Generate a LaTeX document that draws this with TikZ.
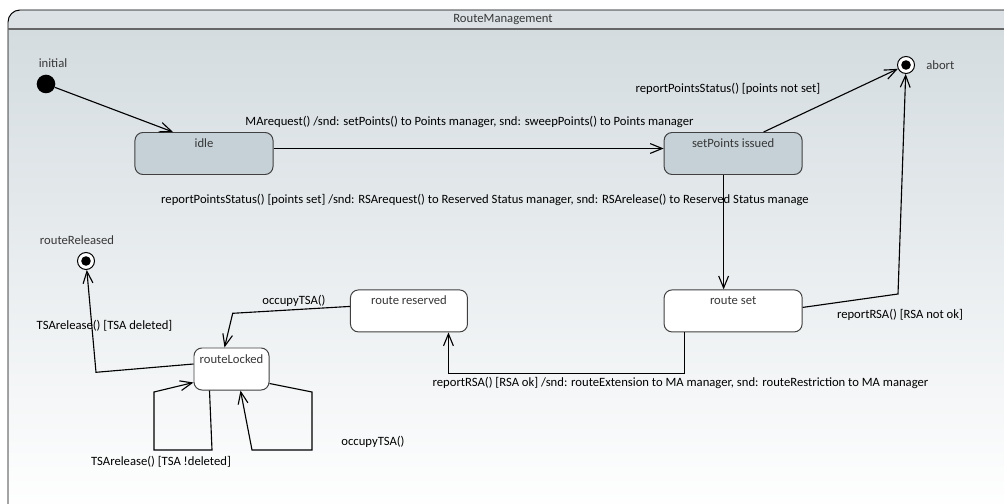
\documentclass[tikz,border=0pt]{standalone}
\usepackage{fontspec}
\setmainfont{Carlito}
\usetikzlibrary{positioning,calc,arrows.meta}
\definecolor{stateblue}{RGB}{197,209,215}
\definecolor{framebg}{RGB}{212,220,224}
\definecolor{labelgray}{RGB}{55,55,55}
\newcommand\statefont{\fontsize{9}{11}\selectfont}
\newcommand\translfont{\fontsize{9}{11}\selectfont}
\tikzset{
	trans/.style={-{Straight Barb[length=8.5pt,width=7pt]}, line width=0.8pt}, % transition between states
	state/.style={rectangle, rounded corners=0.2cm, draw=black!75, line width=0.7pt, fill=white, minimum width=3.45cm, inner ysep=0.2cm, text height=0.175cm, text depth=0.475cm, font=\statefont, text=labelgray},
	active/.style={fill=stateblue},
	pseudo/.style={circle, fill=black, minimum size=0.465cm, inner sep=0pt},
	final/.style={circle, draw, fill=white, line width=0.7pt, minimum size=0.425cm, inner sep=0pt, path picture={\fill[black] (path picture bounding box.center) circle (0.12cm);}},
	tlabel/.style={font=\translfont, inner sep=0pt},
	slabel/.style={font=\statefont, text=labelgray, inner sep=0pt}
}
\begin{document}
\begin{tikzpicture}[x=0.025cm, y=-0.025cm]
	\useasboundingbox (0,0) rectangle (1004,504);
	% frame of the state machine
	\begin{scope}
		\clip (0,0) rectangle (1004,504);
		\fill[framebg!85!white, rounded corners=0.3cm] (8,10) rectangle (1040,40);
		\shade[top color=framebg, bottom color=white] (8,29) rectangle (1040,515);
		\draw[line width=0.7pt, rounded corners=0.3cm] (8,560) -- (8,10) -- (1040,10) -- (1040,560);
		\draw[line width=1.4pt, black!60] (8,29) -- (1040,29);
	\end{scope}
	\node[slabel] (title) at (503,20) {RouteManagement};
	% states
	\node[state, active] (idle) at (204,153.5) {idle};
	\node[state, active, right=9.75cm of idle] (setp) {setPoints issued};
	\node[state, below=2.86cm of setp] (rset) {route set};
	\node[state, minimum width=2.925cm, left=4.89cm of rset] (rres) {route reserved};
	\node[state, minimum width=1.875cm] (lock) at (231.5,369) {routeLocked};
	\node[pseudo] (init) at (46,84) {};
	\node[final] (abort) at (906,65) {};
	\node[final] (rrel) at (86,261) {};
	\node[slabel] (initlab) at (53,63) {initial};
	\node[slabel, anchor=west] (abortlab) at (926,65) {abort};
	\node[slabel] (rrellab) at (77,240) {routeReleased};
	% transition labels
	\node[tlabel] (t1) at (469.5,122) {MArequest() /snd: setPoints() to Points manager, snd: sweepPoints() to Points manager};
	\node[tlabel] (t2) at (728,88.5) {reportPointsStatus() [points not set]};
	\node[tlabel] (t3) at (485,200) {reportPointsStatus() [points set] /snd: RSArequest() to Reserved Status manager, snd: RSArelease() to Reserved Status manage};
	\node[tlabel] (t4) at (900,315) {reportRSA() [RSA not ok]};
	\node[tlabel] (t5) at (680.5,383) {reportRSA() [RSA ok] /snd: routeExtension to MA manager, snd: routeRestriction to MA manager};
	\node[tlabel] (t6) at (294,301) {occupyTSA()};
	\node[tlabel] (t7) at (104.5,326) {TSArelease() [TSA deleted]};
	\node[tlabel] (t8) at (161,462) {TSArelease() [TSA !deleted]};
	\node[tlabel] (t9) at (373,442) {occupyTSA()};
	% transitions
	\draw[trans] (init) -- ($(idle.north)+(-31,0)$);
	\draw[trans] ($(idle.east)+(0,-5)$) -- ($(setp.west)+(0,-5)$);
	\draw[trans] ($(setp.north)+(30.5,0)$) -- (abort);
	\draw[trans] ($(setp.south)+(-9.5,0)$) -- ($(rset.north)+(-9.5,0)$);
	\draw[trans] ($(rset.east)+(0,-3.5)$) -- (898,294) -- (abort);
	\draw[trans] ($(rset.south)+(-48.5,0)$) -- ++(0,41) -| ($(rres.south)+(39.5,0)$);
	\draw[trans] ($(rres.west)+(0,-4.5)$) -- (232.7,313.3) -- ($(lock.north)+(-7,0)$);
	\draw[trans] ($(lock.west)+(0,-5)$) -- (96,372.3) -- (rrel);
	\draw[trans] ($(lock.south)+(-22,0)$) -- (212,450) -- (154,450) -- (154,392) -- ($(lock.south west)+(0,-8)$);
	\draw[trans] ($(lock.south east)+(0,-7)$) -- (312,392) -- (312,450) -- (252,450) -- ($(lock.south)+(9,0)$);
\end{tikzpicture}
\end{document}
